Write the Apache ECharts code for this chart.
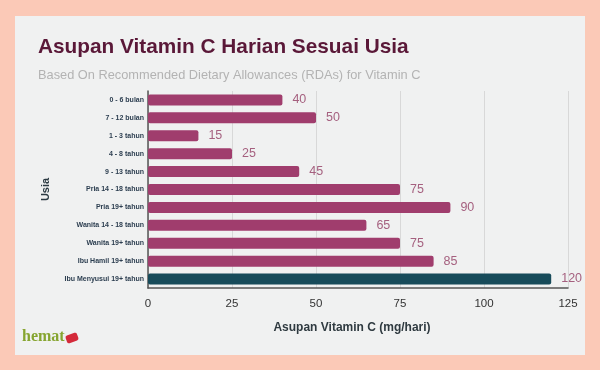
<!DOCTYPE html>
<html>
<head>
<meta charset="utf-8">
<script src="https://cdn.jsdelivr.net/npm/echarts@6/dist/echarts.min.js"></script>
<style>html,body{margin:0;padding:0;background:#fbc9b7;}#c{width:600px;height:370px;}</style>
</head>
<body>
<div id="c"></div>
<script>
const categories = ['0 - 6 bulan','7 - 12 bulan','1 - 3 tahun','4 - 8 tahun','9 - 13 tahun','Pria 14 - 18 tahun','Pria 19+ tahun','Wanita 14 - 18 tahun','Wanita 19+ tahun','Ibu Hamil 19+ tahun','Ibu Menyusui 19+ tahun'];
const values = [40, 50, 15, 25, 45, 75, 90, 65, 75, 85, 120];
const highlightIndex = 10;
const xTicks = [0, 25, 50, 75, 100, 125];

const chart = echarts.init(document.getElementById('c'), null, {renderer:'canvas'});
chart.setOption({
  backgroundColor: '#fbc9b7',
  animation: false,
  title: [
    {text: 'Asupan Vitamin C Harian Sesuai Usia', left: 33, top: 32,
     textStyle: {fontFamily: 'Liberation Sans, Arial, sans-serif', fontSize: 20.8, fontWeight: 'bold', color: '#5a1838'}},
    {text: 'Based On Recommended Dietary Allowances (RDAs) for Vitamin C', left: 33, top: 64,
     textStyle: {fontFamily: 'Liberation Sans, Arial, sans-serif', fontSize: 12.8, fontWeight: 'normal', color: '#b3b3b3'}}
  ],
  graphic: [
    {type: 'rect', z: -10, shape: {x: 15, y: 16, width: 570, height: 339}, style: {fill: '#f0f1f1'}},
    {type: 'text', left: 22, top: 329, z: 10, style: {text: 'hemat', font: 'bold 16px "Liberation Serif", serif', fill: '#86a530'}},
    {type: 'rect', z: 10, x: 72, y: 338, rotation: 0.35, shape: {x: -6, y: -4, width: 12, height: 8, r: 2}, style: {fill: '#d42a3a'}}
  ],
  grid: {left: 148, right: 32, top: 91, bottom: 82, containLabel: false},
  xAxis: {
    type: 'value', min: 0, max: 125, interval: 25,
    name: 'Asupan Vitamin C (mg/hari)', nameLocation: 'middle', nameGap: 34,
    nameTextStyle: {fontFamily: 'Liberation Sans, Arial, sans-serif', fontSize: 12, fontWeight: 'bold', color: '#2f3a40', padding: [0, 12, 0, 0]},
    axisLine: {show: true, lineStyle: {color: '#555', width: 1.5}},
    axisTick: {show: false},
    axisLabel: {fontSize: 11.5, color: '#333', margin: 10, fontFamily: 'Liberation Sans, Arial, sans-serif',
      formatter: v => xTicks.includes(v) ? String(v) : ''},
    splitLine: {show: true, lineStyle: {color: '#d8d8d8', width: 1}}
  },
  yAxis: {
    type: 'category', data: categories, inverse: true,
    name: 'Usia', nameLocation: 'middle', nameGap: 97, nameRotate: 90,
    nameTextStyle: {fontFamily: 'Liberation Sans, Arial, sans-serif', fontSize: 11, fontWeight: 'bold', color: '#2b3a42'},
    axisLine: {show: true, lineStyle: {color: '#555', width: 1.5}},
    axisTick: {show: false},
    axisLabel: {fontSize: 7, fontWeight: 'bold', color: '#2c3e50', margin: 4, fontFamily: 'Liberation Sans, Arial, sans-serif'},
    splitLine: {show: false}
  },
  series: [{
    type: 'bar', barWidth: 11,
    data: values.map((v, i) => ({value: v, itemStyle: {color: i === highlightIndex ? '#174b5a' : '#a03d6d', borderRadius: 2}})),
    label: {show: true, position: 'right', distance: 10, fontSize: 12.5, color: '#a5607f', fontFamily: 'Liberation Sans, Arial, sans-serif'}
  }]
});
</script>
</body>
</html>
